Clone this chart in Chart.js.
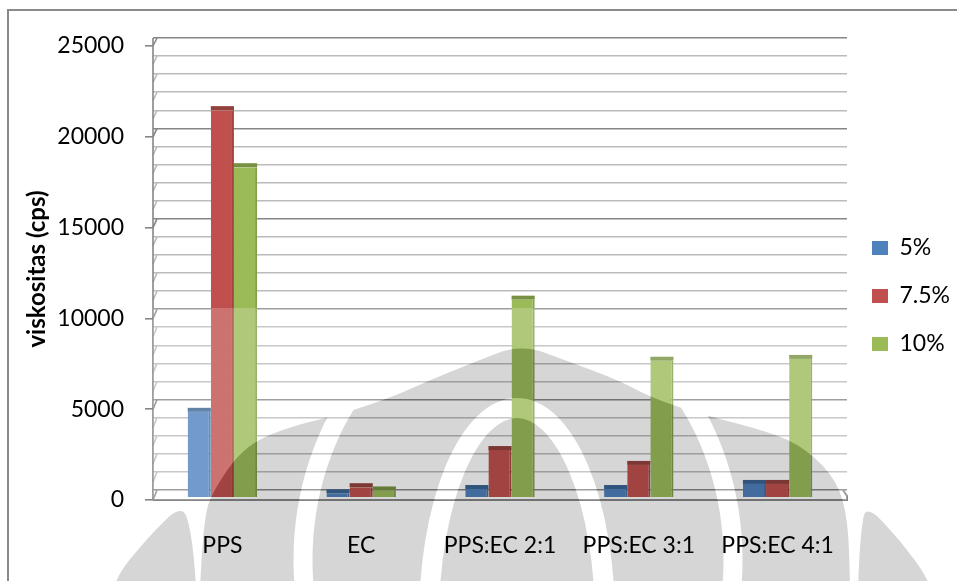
<!DOCTYPE html>
<html>
<head>
<meta charset="utf-8">
<script src="https://cdn.jsdelivr.net/npm/chart.js@4/dist/chart.umd.min.js"></script>
<style>
  html, body { margin: 0; padding: 0; background: #fff; }
  #wrap { width: 957px; height: 581px; position: relative; }
</style>
</head>
<body>
<div id="wrap"><canvas id="chart" width="957" height="581"></canvas></div>
<script>
// Viscosity of the films by polymer blend and concentration
const categories = ['PPS', 'EC', 'PPS:EC 2:1', 'PPS:EC 3:1', 'PPS:EC 4:1'];
const seriesNames = ['5%', '7.5%', '10%'];
const visc5  = [4700, 200, 440, 440, 720];
const visc75 = [21350, 540, 2590, 1770, 720];
const visc10 = [18200, 360, 10890, 7520, 7620];
const majorTicks = [0, 5000, 10000, 15000, 20000, 25000];
const minorTicks = [];
for (let v = 0; v <= 25000; v += 1000) minorTicks.push(v);

const FONT = 'Lato, "Open Sans", sans-serif';
const faceColors = ['#4F81BD', '#C0504D', '#9BBB59'];
const topColors  = ['#3A6495', '#94403D', '#779140'];
const sideColors = ['#416EA3', '#A44542', '#829F49'];
const CAP = 4;      // visible depth of the column tops
const WALL = 4;     // depth of the side wall

const gridColor = v => (v % 5000 === 0 ? '#868686' : '#BBBBBB');

// white page with the frame on the left and top
const framePlugin = {
  id: 'frame',
  beforeDraw(chart) {
    const ctx = chart.ctx;
    ctx.save();
    ctx.fillStyle = '#fff';
    ctx.fillRect(0, 0, chart.width, chart.height);
    ctx.strokeStyle = '#8A8A8A';
    ctx.lineWidth = 2;
    ctx.beginPath();
    ctx.moveTo(8, chart.height);
    ctx.lineTo(8, 10);
    ctx.lineTo(chart.width, 10);
    ctx.stroke();
    ctx.restore();
  }
};

// side wall and floor edges of the 3-D box, plus the column tops
const wallPlugin = {
  id: 'wall',
  beforeDatasetsDraw(chart) {
    const ctx = chart.ctx;
    const yF = chart.scales.y, yB = chart.scales.yGrid;
    const { left: L, right: R } = chart.chartArea;
    ctx.save();
    ctx.lineWidth = 1.6;
    minorTicks.forEach(v => {
      ctx.strokeStyle = gridColor(v);
      ctx.beginPath();
      ctx.moveTo(L, yF.getPixelForValue(v));
      ctx.lineTo(L + WALL, yB.getPixelForValue(v));
      ctx.stroke();
    });
    ctx.strokeStyle = '#868686';
    ctx.beginPath();
    ctx.moveTo(L, yB.getPixelForValue(25000));
    ctx.lineTo(L, yF.getPixelForValue(0));
    ctx.stroke();
    ctx.lineWidth = 2;
    const y0 = yF.getPixelForValue(0), b0 = yB.getPixelForValue(0);
    ctx.beginPath();
    ctx.moveTo(L, y0);
    ctx.lineTo(R, y0);
    ctx.lineTo(R, y0 - 4);
    ctx.lineTo(R - 4, b0);
    ctx.stroke();
    ctx.restore();
  },
  afterDatasetsDraw(chart) {
    const ctx = chart.ctx;
    ctx.save();
    chart.data.datasets.forEach((ds, i) => {
      chart.getDatasetMeta(i).data.forEach(bar => {
        const { x, y, width } = bar.getProps(['x', 'y', 'width'], true);
        ctx.fillStyle = topColors[i];
        ctx.fillRect(x - width / 2, y - CAP, width, CAP);
      });
    });
    ctx.restore();
  }
};

// faint university emblem printed over the lower half of the page
function emblemPath(c) {
  const main = [[200,600],[200,581],[205,512],[214,490],[236,457],[260,438],[300,424],[335,416],
    [390,398],[428,381],[472,363],[521,344],[570,362],[618,380],[652,398],[700,414],[770,432],
    [805,448],[837,480],[848,520],[850,581],[850,600]];
  const smooth = pts => {
    c.moveTo(pts[0][0], pts[0][1]);
    for (let i = 1; i < pts.length - 1; i++) {
      const mx = (pts[i][0] + pts[i + 1][0]) / 2, my = (pts[i][1] + pts[i + 1][1]) / 2;
      c.quadraticCurveTo(pts[i][0], pts[i][1], mx, my);
    }
    const l = pts[pts.length - 1];
    c.lineTo(l[0], l[1]);
    c.closePath();
  };
  c.beginPath();
  smooth(main);
  smooth([[112,600],[112,581],[150,535],[182,504],[191,530],[196,581],[196,600]]);
  smooth([[858,600],[858,581],[861,530],[866,504],[900,540],[930,581],[930,600]]);
}

const emblemPlugin = {
  id: 'emblem',
  afterDraw(chart) {
    const { ctx, width, height } = chart;
    const area = chart.chartArea;
    const logo = document.createElement('canvas');
    logo.width = width; logo.height = height;
    const o = logo.getContext('2d');
    o.fillStyle = '#D6D6D6';
    emblemPath(o);
    o.fill();
    o.globalCompositeOperation = 'destination-out';
    o.lineWidth = 19;
    o.beginPath();
    o.ellipse(518, 560, 215, 260, 0, 0, Math.PI * 2);
    o.stroke();
    o.lineWidth = 20;
    o.beginPath();
    o.ellipse(517, 620, 88, 212, 0, 0, Math.PI * 2);
    o.stroke();

    // pale veil over the columns outside the emblem
    const veil = document.createElement('canvas');
    veil.width = width; veil.height = height;
    const v = veil.getContext('2d');
    v.fillStyle = 'rgba(255,255,255,0.2)';
    v.fillRect(area.left, 308, area.right - area.left, area.bottom - 308);
    v.globalCompositeOperation = 'destination-out';
    v.drawImage(logo, 0, 0);

    ctx.save();
    ctx.drawImage(veil, 0, 0);
    ctx.globalCompositeOperation = 'multiply';
    ctx.drawImage(logo, 0, 0);
    ctx.restore();
  }
};

const makeSet = (i, data) => ({
  label: seriesNames[i],
  data,
  yAxisID: 'yBar',
  backgroundColor: faceColors[i],
  borderColor: sideColors[i],
  borderWidth: { top: 0, right: 2, bottom: 0, left: 0 },
  borderSkipped: false,
  categoryPercentage: 0.5,
  barPercentage: 1.0
});

new Chart(document.getElementById('chart'), {
  type: 'bar',
  data: {
    labels: categories,
    datasets: [makeSet(0, visc5), makeSet(1, visc75), makeSet(2, visc10)]
  },
  options: {
    responsive: false,
    animation: false,
    layout: { padding: { top: 38, right: 0, bottom: 27, left: 0 } },
    plugins: {
      tooltip: { enabled: false },
      legend: {
        position: 'right',
        maxWidth: 110,
        labels: {
          boxWidth: 16,
          boxHeight: 14,
          padding: 25,
          color: '#000',
          font: { family: FONT, size: 23 },
          generateLabels(chart) {
            return Chart.defaults.plugins.legend.labels.generateLabels(chart)
              .map(it => Object.assign(it, { lineWidth: 0, strokeStyle: 'transparent' }));
          }
        }
      }
    },
    scales: {
      x: {
        grid: { display: false, drawTicks: false },
        border: { display: false },
        ticks: { color: '#000', padding: 32, font: { family: FONT, size: 23 } },
        afterFit(axis) { axis.height = 54; }
      },
      y: {
        position: 'left',
        weight: 10,
        min: 0,
        max: 25440,
        afterBuildTicks(axis) { axis.ticks = majorTicks.map(v => ({ value: v })); },
        grid: { drawOnChartArea: false, drawTicks: true, tickLength: 8, color: '#868686', lineWidth: 1.6 },
        border: { display: false },
        ticks: {
          color: '#000',
          padding: 21,
          font: { family: FONT, size: 23 },
          callback: v => String(v)
        },
        title: {
          display: true,
          text: 'viskositas (cps)',
          color: '#000',
          font: { family: FONT, size: 24, weight: 'bold' },
          padding: { top: 23, bottom: 0 }
        },
        afterFit(axis) { axis.width = 153; }
      },
      yGrid: {
        position: 'left',
        weight: 0,
        min: -553,
        max: 25000,
        afterBuildTicks(axis) { axis.ticks = minorTicks.map(v => ({ value: v })); },
        grid: {
          drawTicks: false,
          lineWidth: 1.6,
          color: ctx => gridColor(ctx.tick ? ctx.tick.value : 0)
        },
        border: { display: false },
        ticks: { display: false },
        afterFit(axis) { axis.width = 0; }
      },
      yBar: {
        display: false,
        min: -166,
        max: 25331
      }
    }
  },
  plugins: [framePlugin, wallPlugin, emblemPlugin]
});
</script>
</body>
</html>
